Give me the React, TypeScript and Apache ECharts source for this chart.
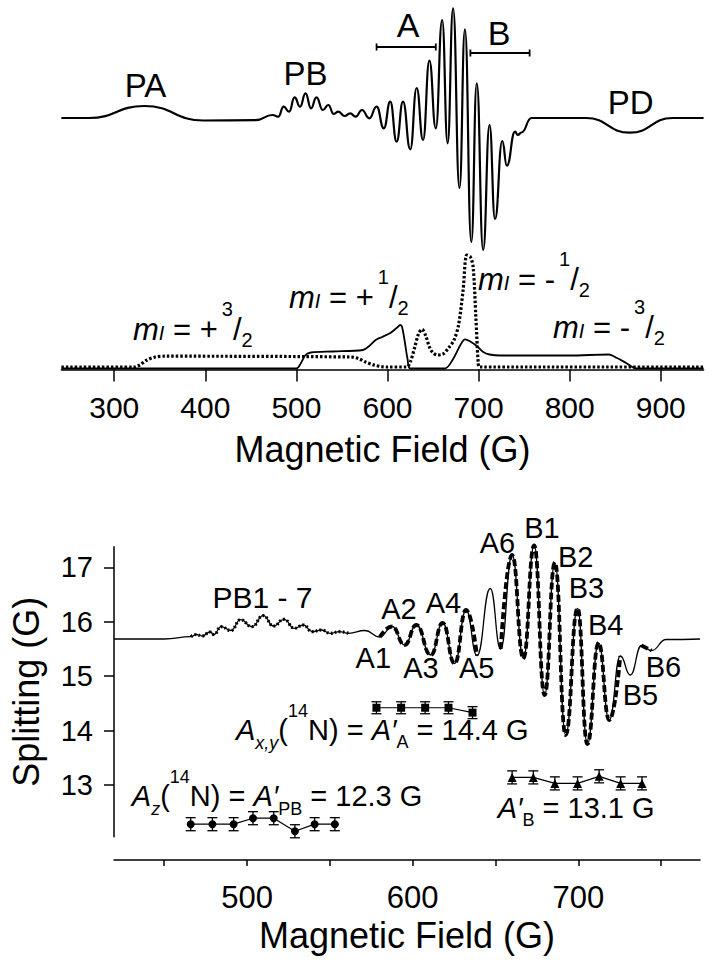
import React, { useEffect, useRef } from "react";
import * as echarts from "echarts";

const FONT = '"Liberation Sans", Arial, Helvetica, sans-serif';
const BLACK = "#000";

// ---------- Top panel: experimental EPR spectrum (field in G, amplitude in arbitrary units) ----------
const topField = [242, 272, 333, 398, 455, 474, 480, 486, 492, 498, 504, 510, 516, 522, 529, 535, 541, 546, 553, 559, 565, 572, 580, 588, 596, 603, 610, 617, 625, 632, 639, 646, 653, 660, 666, 672, 679, 685, 692, 698, 705, 712, 718, 726, 731, 740, 743, 747, 758, 818, 866, 913, 947];
const topAmplitude = [0, 0, 12, -2.5, -2.2, 3, 1.3, 11.3, 6.3, 20.7, 11.3, 24.7, 9.7, 20.7, 8, 13, 4, 6.3, 2, 4.7, 1.3, 8, -0.3, 11.3, -10.3, 16.3, -23.7, 16.3, -31.3, 30, -22, 57.3, -10.3, 98, -25.3, 109.7, -70, 88.7, -124, 34.7, -132, -7, -101, -23, -47.7, -13.7, -17, -14.5, 0, 0, -14.7, 0, 0];

// Simulated components (solid and dotted traces)
const solidField = [242, 500, 505, 510, 516, 540, 573, 580, 587, 594, 603, 610, 614, 616, 619, 622, 625, 663, 672, 680, 685, 690, 698, 705, 712, 724, 800, 843, 852, 862, 873, 947];
const solidValue = [-1.5, -1.5, 4, 12, 14.5, 15.5, 17, 21, 27, 30, 34, 39, 42, 40, 25, 8, -1.5, -1.5, 8, 22, 27.7, 26, 21, 15, 12.5, 11.5, 11.5, 12.5, 9, 4, -1.5, -1.5];
const dottedField = [242, 322, 328, 336, 345, 355, 560, 568, 576, 585, 594, 600, 621, 625, 630, 634, 638, 642, 646, 650, 655, 661, 667, 673, 678, 683, 687, 691, 694, 697, 699.5, 701, 947];
const dottedValue = [0, 0, 2, 7, 10, 10.8, 10, 8.5, 5, 2, 0.3, 0, 0, 5, 20, 33, 37.7, 31, 20, 14, 12, 13, 19, 27, 42, 77, 112, 110, 100, 50, 5, 0, 0];

// Range brackets [start G, end G, level]
const bracketA = [588, 653, 71];
const bracketB = [691, 756, 65];

const topTicks = [300, 400, 500, 600, 700, 800, 900];

// ---------- Bottom panel ----------
const botField = [419.7, 450, 466.2, 469.4, 472.9, 477.7, 480.1, 484.3, 490.3, 496.1, 502.9, 509.8, 516, 522.3, 528.6, 534, 539.4, 544.9, 550.3, 555.8, 561.2, 571.1, 580.1, 587.6, 595.1, 602.2, 610.9, 618.1, 625.3, 632.2, 638.8, 646.8, 653.1, 660, 666.8, 673.3, 679.6, 685.8, 692.3, 699.5, 705.4, 712.2, 718.6, 725.3, 731.3, 738.1, 744.1, 753, 773.4];
const botAmplitude = [0, 0, 2.3, 4.5, 3, 7, 4.5, 12.3, 8.5, 19.3, 12.3, 23.3, 13, 19.7, 10.7, 14, 7.3, 9, 5.7, 7.3, 5.7, 8.5, 2, 12.5, -6, 14, -16, 16, -24.5, 29, -16.5, 50.5, -10, 84, -19.3, 93.5, -56, 76.3, -96, 30.7, -105, -4, -81, -17, -36, -6.5, -11.5, -0.5, 0];

const pbX = [466, 479.1, 491.9, 503.6, 516.1, 528.9, 540.8, 553];
const pbY = [12.28, 12.28, 12.28, 12.39, 12.39, 12.15, 12.28, 12.28];
const pbErr = 0.12;
const aX = [578.1, 593, 607.5, 621.6, 636.1];
const aY = [14.42, 14.42, 14.42, 14.42, 14.33];
const aErr = 0.11;
const bX = [660, 672.8, 685.8, 699.5, 712.5, 725.5, 738.4];
const bY = [13.14, 13.14, 13.03, 13.03, 13.16, 13.03, 13.03];
const bErr = 0.12;

const botXTicks = [450, 500, 550, 600, 650, 700, 750];
const botXLabels = [500, 600, 700];
const botYTicks = [13, 14, 15, 16, 17];

type Pt = [number, number];
const zip = (xs: number[], ys: number[]): Pt[] => xs.map((x, i) => [x, ys[i]]);
const within = (pts: Pt[], lo: number, hi: number) => pts.filter((p) => p[0] >= lo && p[0] <= hi);

const lineColor = { color: BLACK, width: 1.5 };

function plainText(x: number, y: number, text: string, size: number) {
  return {
    type: "text", x, y, z: 100,
    style: { text, fill: BLACK, font: `${size}px ${FONT}`, align: "center", verticalAlign: "middle" },
  };
}

function richText(x: number, y: number, text: string, rich: any, size: number) {
  return {
    type: "text", x, y, z: 100,
    style: { text, rich, fill: BLACK, font: `${size}px ${FONT}`, align: "left", verticalAlign: "middle" },
  };
}

// superscripts are lifted with bottom padding, subscripts lowered with top padding
const mRich = {
  m: { font: `italic 31px ${FONT}`, fill: BLACK },
  i: { font: `italic 20px ${FONT}`, padding: [7, 0, 0, 0], fill: BLACK },
  n: { font: `31px ${FONT}`, fill: BLACK },
  p: { font: `20px ${FONT}`, padding: [0, 0, 40, 4], fill: BLACK },
  s: { font: `20px ${FONT}`, padding: [22, 0, 0, 0], fill: BLACK },
};

const aRich = {
  a: { font: `italic 29px ${FONT}`, fill: BLACK },
  n: { font: `29px ${FONT}`, fill: BLACK },
  p: { font: `18px ${FONT}`, padding: [0, 0, 38, 0], fill: BLACK },
  s: { font: `18px ${FONT}`, padding: [25, 0, 0, 0], fill: BLACK },
  si: { font: `italic 18px ${FONT}`, padding: [26, 0, 0, 0], fill: BLACK },
};

function errorBars(xs: number[], ys: number[], err: number) {
  return {
    type: "custom", xAxisIndex: 1, yAxisIndex: 2, silent: true, z: 4,
    data: xs.map((x, i) => [x, ys[i], err]),
    encode: { x: 0, y: 1 },
    renderItem: (_p: any, api: any) => {
      const x = api.value(0), y = api.value(1), e = api.value(2);
      const hi = api.coord([x, y + e]);
      const lo = api.coord([x, y - e]);
      const w = 5;
      const st = { stroke: BLACK, lineWidth: 1.3 };
      return {
        type: "group",
        children: [
          { type: "line", shape: { x1: hi[0], y1: hi[1], x2: lo[0], y2: lo[1] }, style: st },
          { type: "line", shape: { x1: hi[0] - w, y1: hi[1], x2: hi[0] + w, y2: hi[1] }, style: st },
          { type: "line", shape: { x1: lo[0] - w, y1: lo[1], x2: lo[0] + w, y2: lo[1] }, style: st },
        ],
      };
    },
  };
}

function buildOption(): any {
  const topSpec = zip(topField, topAmplitude);
  const botSpec = zip(botField, botAmplitude);
  const thinBot = { color: BLACK, width: 1.3 };
  const thick = { color: BLACK, width: 3.8, type: [7, 3] };
  return {
    animation: false,
    textStyle: { fontFamily: FONT, color: BLACK },
    grid: [
      { left: 61.4, top: 0, width: 642.2, height: 369.5 },
      { left: 109, top: 546.7, width: 591, height: 290 },
    ],
    xAxis: [
      {
        gridIndex: 0, type: "value", min: 242, max: 947,
        axisLine: { onZero: false, lineStyle: lineColor },
        axisTick: { show: true, length: 12, customValues: topTicks, lineStyle: lineColor },
        axisLabel: { customValues: topTicks, fontSize: 30, color: BLACK, margin: 23, fontFamily: FONT },
        splitLine: { show: false },
        name: "Magnetic Field (G)", nameLocation: "middle", nameGap: 62,
        nameTextStyle: { fontSize: 36, color: BLACK, fontFamily: FONT },
      },
      {
        gridIndex: 1, type: "value", min: 419.7, max: 773.4, offset: 23.3,
        axisLine: { onZero: false, lineStyle: lineColor },
        axisTick: { show: true, length: 6, customValues: botXTicks, lineStyle: lineColor },
        axisLabel: { customValues: botXLabels, fontSize: 31, color: BLACK, margin: 22, fontFamily: FONT },
        splitLine: { show: false },
        name: "Magnetic Field (G)", nameLocation: "middle", nameGap: 57,
        nameTextStyle: { fontSize: 36, color: BLACK, fontFamily: FONT },
      },
    ],
    yAxis: [
      { gridIndex: 0, type: "value", show: false, min: -251.5, max: 118 },
      { gridIndex: 0, type: "value", show: false, min: -2.5, max: 367 },
      {
        gridIndex: 1, type: "value", position: "left", min: 12.05, max: 17.38,
        axisLine: { show: true, onZero: false, lineStyle: lineColor },
        axisTick: { show: true, length: 10, customValues: botYTicks, lineStyle: lineColor },
        axisLabel: { customValues: botYTicks, fontSize: 29, color: BLACK, margin: 21, fontFamily: FONT },
        splitLine: { show: false },
        name: "Splitting (G)", nameLocation: "middle", nameRotate: 90, nameGap: 70,
        nameTextStyle: { fontSize: 36, color: BLACK, fontFamily: FONT },
      },
      { gridIndex: 1, type: "value", show: false, min: -197.7, max: 92.3 },
    ],
    series: [
      {
        name: "EPR spectrum", type: "line", xAxisIndex: 0, yAxisIndex: 0, data: topSpec,
        smooth: 0.5, smoothMonotone: "x", symbol: "none", clip: false,
        lineStyle: { color: BLACK, width: 2.2 },
      },
      {
        name: "mI ±1/2", type: "line", xAxisIndex: 0, yAxisIndex: 1, data: zip(solidField, solidValue),
        smooth: 0.3, symbol: "none", clip: false, lineStyle: { color: BLACK, width: 1.8 },
      },
      {
        name: "mI ±3/2", type: "line", xAxisIndex: 0, yAxisIndex: 1, data: zip(dottedField, dottedValue),
        smooth: 0.3, symbol: "none", clip: false, lineStyle: { color: BLACK, width: 3.2, type: [2.5, 2] },
      },
      {
        name: "brackets", type: "custom", xAxisIndex: 0, yAxisIndex: 0, silent: true,
        data: [bracketA, bracketB], encode: { x: [0, 1], y: 2 },
        renderItem: (_p: any, api: any) => {
          const a = api.coord([api.value(0), api.value(2)]);
          const b = api.coord([api.value(1), api.value(2)]);
          const st = { stroke: BLACK, lineWidth: 1.8 };
          const h = 3.5;
          return {
            type: "group",
            children: [
              { type: "line", shape: { x1: a[0], y1: a[1], x2: b[0], y2: b[1] }, style: st },
              { type: "line", shape: { x1: a[0], y1: a[1] - h, x2: a[0], y2: a[1] + h }, style: st },
              { type: "line", shape: { x1: b[0], y1: b[1] - h, x2: b[0], y2: b[1] + h }, style: st },
            ],
          };
        },
      },
      {
        name: "spectrum (zoom)", type: "line", xAxisIndex: 1, yAxisIndex: 3, data: botSpec,
        smooth: 0.5, smoothMonotone: "x", symbol: "none", clip: false, lineStyle: thinBot,
      },
      {
        name: "PB points", type: "line", xAxisIndex: 1, yAxisIndex: 3, data: within(botSpec, 466, 562),
        smooth: 0.5, smoothMonotone: "x", symbol: "none", clip: false,
        lineStyle: { color: BLACK, width: 3.2, type: [1.8, 2.2] },
      },
      {
        name: "A lines", type: "line", xAxisIndex: 1, yAxisIndex: 3, data: within(botSpec, 580, 639),
        smooth: 0.5, smoothMonotone: "x", symbol: "none", clip: false, lineStyle: thick,
      },
      {
        name: "B lines", type: "line", xAxisIndex: 1, yAxisIndex: 3, data: within(botSpec, 653, 726),
        smooth: 0.5, smoothMonotone: "x", symbol: "none", clip: false, lineStyle: thick,
      },
      {
        name: "B6 line", type: "line", xAxisIndex: 1, yAxisIndex: 3, data: within(botSpec, 738, 745),
        smooth: 0.5, smoothMonotone: "x", symbol: "none", clip: false, lineStyle: thick,
      },
      {
        name: "A'PB", type: "line", xAxisIndex: 1, yAxisIndex: 2, data: zip(pbX, pbY), z: 5,
        symbol: "circle", symbolSize: 8, itemStyle: { color: BLACK }, lineStyle: { color: BLACK, width: 1.2 },
      },
      {
        name: "A'A", type: "line", xAxisIndex: 1, yAxisIndex: 2, data: zip(aX, aY), z: 5,
        symbol: "rect", symbolSize: 8, itemStyle: { color: BLACK }, lineStyle: { color: BLACK, width: 1.2 },
      },
      {
        name: "A'B", type: "line", xAxisIndex: 1, yAxisIndex: 2, data: zip(bX, bY), z: 5,
        symbol: "triangle", symbolSize: 9, itemStyle: { color: BLACK }, lineStyle: { color: BLACK, width: 1.2 },
      },
      errorBars(pbX, pbY, pbErr),
      errorBars(aX, aY, aErr),
      errorBars(bX, bY, bErr),
    ],
    graphic: [
      plainText(145.5, 85, "PA", 33),
      plainText(305.5, 73, "PB", 33),
      plainText(408, 25, "A", 34),
      plainText(499, 33, "B", 34),
      plainText(630.7, 102.5, "PD", 33),
      richText(133, 329, "{m|m}{i|I}{n| = +}{p|3}{n|/}{s|2}", mRich, 31),
      richText(289, 297, "{m|m}{i|I}{n| = +}{p|1}{n|/}{s|2}", mRich, 31),
      richText(478, 279, "{m|m}{i|I}{n| = -}{p|1}{n|/}{s|2}", mRich, 31),
      richText(553, 327, "{m|m}{i|I}{n| = -}{p|3}{n|/}{s|2}", mRich, 31),
      plainText(262.5, 597.5, "PB1 - 7", 30),
      plainText(373.3, 657.5, "A1", 29),
      plainText(399, 609, "A2", 29),
      plainText(421, 668, "A3", 29),
      plainText(443.5, 602.5, "A4", 29),
      plainText(476.7, 668, "A5", 29),
      plainText(497.5, 543, "A6", 29),
      plainText(542, 528, "B1", 29),
      plainText(575.7, 556.7, "B2", 29),
      plainText(586.4, 587.5, "B3", 29),
      plainText(605.7, 625, "B4", 29),
      plainText(640.5, 695, "B5", 29),
      plainText(663.5, 667, "B6", 29),
      richText(236, 729.5, "{a|A}{si|x,y}{n|(}{p|14}{n|N) = }{a|A′}{s|A}{n| = 14.4 G}", aRich, 29),
      richText(131.8, 796, "{a|A}{si|z}{n|(}{p|14}{n|N) = }{a|A′}{s|PB}{n| = 12.3 G}", aRich, 29),
      richText(497.7, 807.5, "{a|A′}{s|B}{n| = 13.1 G}", aRich, 29),
    ],
  };
}

export default function App() {
  const ref = useRef<HTMLDivElement>(null);
  useEffect(() => {
    const chart = echarts.init(ref.current!, null, { renderer: "svg" });
    chart.setOption(buildOption());
    return () => chart.dispose();
  }, []);
  return (
    <div
      ref={ref}
      style={{ position: "fixed", left: 0, top: 0, width: 712, height: 964, background: "#fff" }}
    />
  );
}
